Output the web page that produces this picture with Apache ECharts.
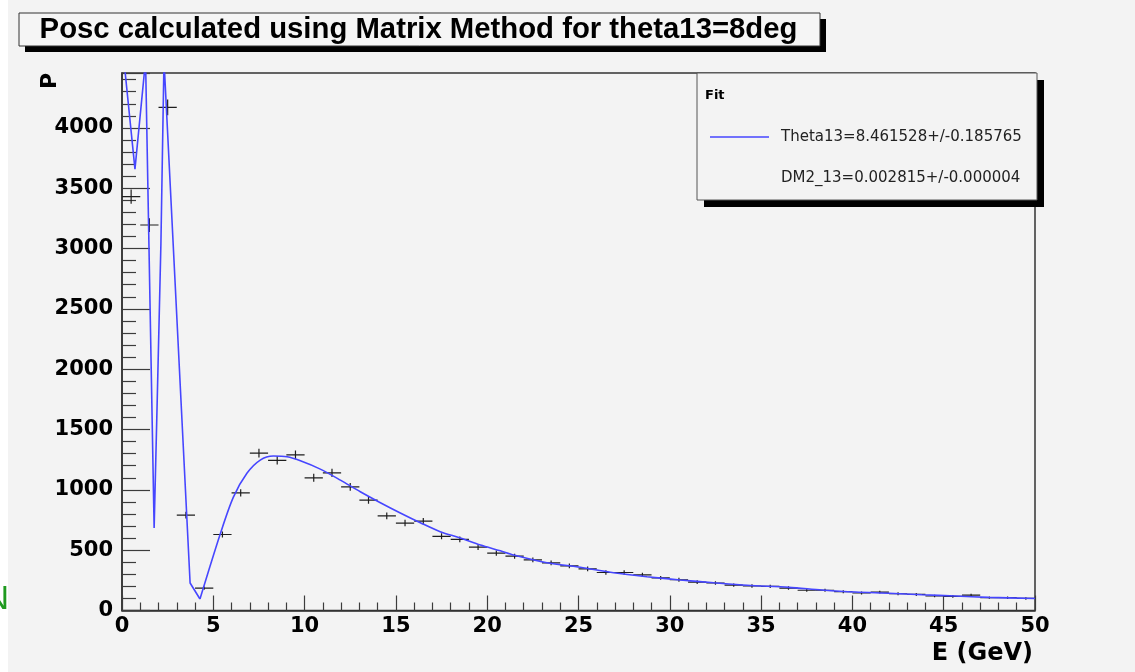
<!DOCTYPE html>
<html>
<head>
<meta charset="utf-8">
<title>Posc calculated using Matrix Method for theta13=8deg</title>
<script src="https://cdn.jsdelivr.net/npm/echarts@6/dist/echarts.min.js"></script>
<style>
  html, body { margin: 0; padding: 0; background: #f3f3f3; }
  #chart { width: 1135px; height: 672px; }
</style>
</head>
<body>
<div id="chart"></div>
<script>
// Histogram: bin centres (GeV), event counts and their errors
const binCenters = [
  0.5, 1.5, 2.5, 3.5, 4.5, 5.5, 6.5, 7.5, 8.5, 9.5,
  10.5, 11.5, 12.5, 13.5, 14.5, 15.5, 16.5, 17.5, 18.5, 19.5,
  20.5, 21.5, 22.5, 23.5, 24.5, 25.5, 26.5, 27.5, 28.5, 29.5,
  30.5, 31.5, 32.5, 33.5, 34.5, 35.5, 36.5, 37.5, 38.5, 39.5,
  40.5, 41.5, 42.5, 43.5, 44.5, 45.5, 46.5, 47.5, 48.5, 49.5
];
const counts = [
  3430, 3195, 4170, 790, 185, 630, 975, 1305, 1245, 1290,
  1100, 1140, 1025, 915, 785, 725, 740, 615, 590, 525,
  475, 450, 420, 395, 370, 345, 315, 315, 295, 270,
  255, 235, 228, 210, 203, 200, 186, 168, 168, 156,
  145, 152, 139, 133, 120, 117, 127, 107, 106, 100
];
const countErrors = [
  59, 57, 65, 28, 14, 25, 31, 36, 35, 36,
  33, 34, 32, 30, 28, 27, 27, 25, 24, 23,
  22, 21, 20, 20, 19, 19, 18, 18, 17, 16,
  16, 15, 15, 14, 14, 14, 14, 13, 13, 12,
  12, 12, 12, 12, 11, 11, 11, 10, 10, 10
];
const binHalfWidth = 0.5;

// Fitted function, oscillating low-energy part (straight segments)
const fitLowE = [0.0, 0.71, 1.29, 1.76, 1.93, 2.13, 2.30, 3.73, 4.27];
const fitLowP = [4717, 3658, 4560, 683, 1750, 3033, 4560, 228, 95];

// Fitted function, smooth part from the minimum onwards
const fitHighE = [
  4.27, 5.38, 6.10, 6.85, 7.57, 8.29, 9.04, 9.77, 10.86, 11.96,
  13.05, 14.15, 15.24, 16.34, 17.43, 18.53, 19.63, 20.72, 21.45, 23.27,
  25.10, 26.92, 28.75, 30.57, 32.40, 34.23, 36.51, 38.33, 40.16, 41.98,
  43.81, 45.64, 47.46, 50.0
];
const fitHighP = [
  95, 634, 940, 1139, 1247, 1280, 1274, 1241, 1172, 1081,
  984, 893, 808, 727, 653, 601, 543, 495, 460, 396,
  358, 313, 280, 253, 230, 209, 192, 170, 153, 143,
  131, 120, 109, 100
];

// Axis ranges
const xRange = [0, 50];
const xStep = 5;
const yRange = [0, 4455];
const yStep = 500;

const titleText = 'Posc calculated using Matrix Method for theta13=8deg';
const legendHeader = 'Fit';
const legendLines = ['Theta13=8.461528+/-0.185765', 'DM2_13=0.002815+/-0.000004'];
const xAxisTitle = 'E (GeV)';
const yAxisTitle = 'P';

const fitColor = '#4646ff';
const frameColor = '#333333';
const tickColor = '#3c3c3c';
const labelFont = 'DejaVu Sans';

function renderCross(params, api) {
  const e = api.value(0), v = api.value(1), err = api.value(2);
  const l = api.coord([e - binHalfWidth, v]);
  const r = api.coord([e + binHalfWidth, v]);
  const t = api.coord([e, v + err]);
  const b = api.coord([e, v - err]);
  const style = { stroke: '#1e1e1e', lineWidth: 1.2 };
  return {
    type: 'group',
    children: [
      { type: 'line', shape: { x1: l[0], y1: l[1], x2: r[0], y2: r[1] }, style },
      { type: 'line', shape: { x1: t[0], y1: t[1], x2: b[0], y2: b[1] }, style }
    ]
  };
}

const chart = echarts.init(document.getElementById('chart'), null, { renderer: 'canvas' });

const option = {
  backgroundColor: '#f3f3f3',
  animation: false,
  grid: {
    left: 122, top: 73, width: 913, height: 537.5,
    show: true, borderColor: frameColor, borderWidth: 1.5,
    backgroundColor: 'transparent'
  },
  xAxis: {
    type: 'value', min: xRange[0], max: xRange[1], interval: xStep,
    axisLine: { show: true, onZero: false, lineStyle: { color: frameColor, width: 1.5 } },
    axisTick: { show: true, inside: true, length: 15, lineStyle: { color: tickColor, width: 1.2 } },
    minorTick: { show: true, splitNumber: 5, length: 8, lineStyle: { color: tickColor, width: 1.2 } },
    splitLine: { show: false },
    minorSplitLine: { show: false },
    axisLabel: {
      fontFamily: labelFont, fontWeight: 'bold', fontSize: 21, color: '#000', margin: 6,
      formatter: v => String(v)
    }
  },
  yAxis: {
    type: 'value', min: yRange[0], max: yRange[1], interval: yStep,
    axisLine: { show: true, onZero: false, lineStyle: { color: frameColor, width: 1.5 } },
    axisTick: { show: true, inside: true, length: 28, lineStyle: { color: tickColor, width: 1.2 } },
    minorTick: { show: true, splitNumber: 5, length: 14, lineStyle: { color: tickColor, width: 1.2 } },
    splitLine: { show: false },
    minorSplitLine: { show: false },
    axisLabel: {
      fontFamily: labelFont, fontWeight: 'bold', fontSize: 21, color: '#000', margin: 9,
      showMaxLabel: false,
      formatter: v => String(v)
    }
  },
  series: [
    {
      name: 'Fit',
      type: 'line',
      data: fitLowE.map((e, i) => [e, fitLowP[i]]),
      showSymbol: false,
      clip: true,
      lineStyle: { color: fitColor, width: 1.6 },
      z: 3
    },
    {
      name: 'Fit',
      type: 'line',
      data: fitHighE.map((e, i) => [e, fitHighP[i]]),
      showSymbol: false,
      smooth: 0.3,
      clip: true,
      lineStyle: { color: fitColor, width: 1.6 },
      z: 3
    },
    {
      name: 'Data',
      type: 'custom',
      data: binCenters.map((e, i) => [e, counts[i], countErrors[i]]),
      encode: { x: 0, y: 1 },
      renderItem: renderCross,
      clip: true,
      z: 2
    }
  ],
  graphic: [
    // white strip and clipped green letter at the left edge
    { type: 'rect', shape: { x: 0, y: 0, width: 8, height: 672 }, style: { fill: '#ffffff' }, z: 1 },
    { type: 'text', x: 9, y: 600, z: 2,
      style: { text: 'N', font: '34px "Liberation Sans"', fill: '#1f9a1f', align: 'right', verticalAlign: 'middle' } },

    // title box with drop shadow
    { type: 'rect', shape: { x: 25, y: 19, width: 801, height: 33 }, style: { fill: '#000' }, z: 5 },
    { type: 'rect', shape: { x: 19, y: 13, width: 801, height: 33 }, style: { fill: '#f5f5f5', stroke: '#333', lineWidth: 1 }, z: 6 },
    { type: 'text', x: 418.5, y: 30, z: 7,
      style: { text: titleText, font: 'bold 29.3px "Liberation Sans"', fill: '#000', align: 'center', verticalAlign: 'middle' } },

    // fit statistics box with drop shadow
    { type: 'rect', shape: { x: 704, y: 80, width: 340, height: 127 }, style: { fill: '#000' }, z: 5 },
    { type: 'rect', shape: { x: 697, y: 73, width: 340, height: 127 }, style: { fill: '#f3f3f3', stroke: '#555', lineWidth: 1 }, z: 6 },
    { type: 'text', x: 705, y: 96, z: 7,
      style: { text: legendHeader, font: 'bold 13px "DejaVu Sans"', fill: '#000', align: 'left', verticalAlign: 'middle' } },
    { type: 'line', shape: { x1: 710, y1: 137, x2: 769, y2: 137 }, style: { stroke: fitColor, lineWidth: 1.6 }, z: 7 },
    { type: 'text', x: 781, y: 137, z: 7,
      style: { text: legendLines[0], font: '15px "DejaVu Sans"', fill: '#222', align: 'left', verticalAlign: 'middle' } },
    { type: 'text', x: 781, y: 178, z: 7,
      style: { text: legendLines[1], font: '15px "DejaVu Sans"', fill: '#222', align: 'left', verticalAlign: 'middle' } },

    // axis titles
    { type: 'text', x: 50, y: 81, rotation: Math.PI / 2, z: 7,
      style: { text: yAxisTitle, font: 'bold 22px "DejaVu Sans"', fill: '#000', align: 'center', verticalAlign: 'middle' } },
    { type: 'text', x: 1033, y: 654, z: 7,
      style: { text: xAxisTitle, font: 'bold 24px "DejaVu Sans"', fill: '#000', align: 'right', verticalAlign: 'middle' } }
  ]
};

chart.setOption(option);
</script>
</body>
</html>
